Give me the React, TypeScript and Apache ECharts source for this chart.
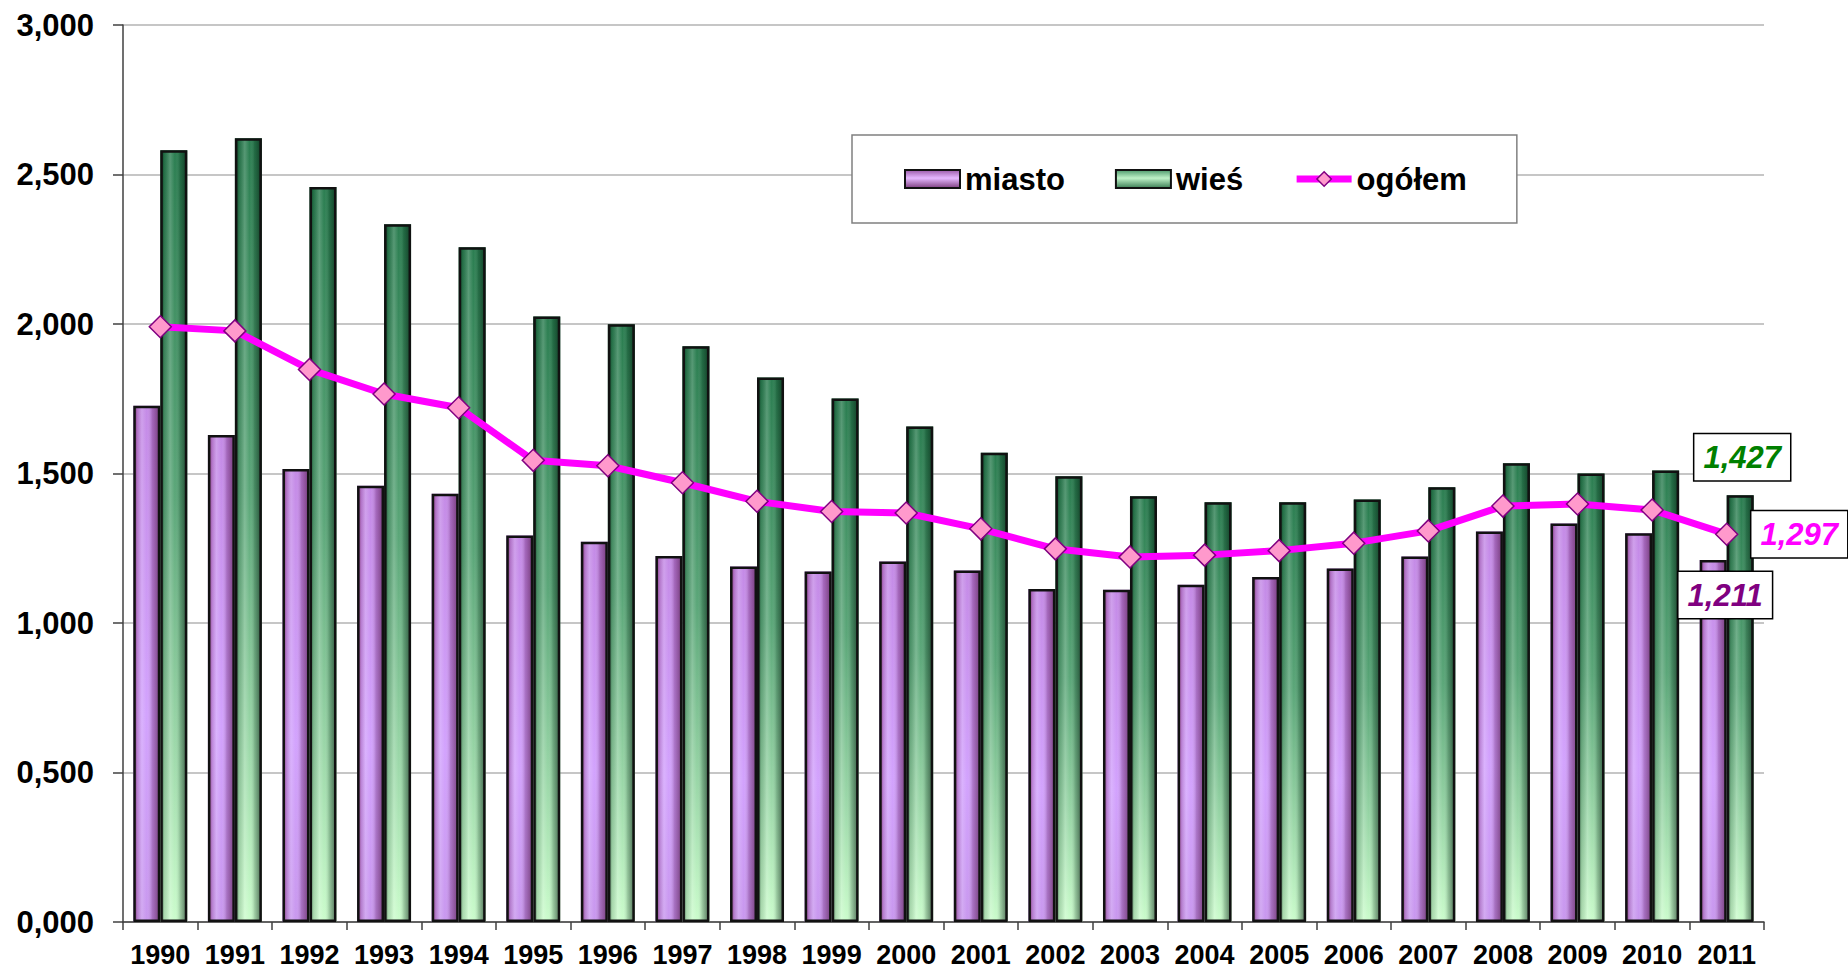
import React, { useEffect, useRef } from "react";
import * as echarts from "echarts";

const years = ["1990","1991","1992","1993","1994","1995","1996","1997","1998","1999","2000","2001","2002","2003","2004","2005","2006","2007","2008","2009","2010","2011"];
const miasto = [1.727,1.629,1.515,1.459,1.432,1.293,1.272,1.224,1.189,1.172,1.206,1.176,1.114,1.111,1.128,1.154,1.182,1.222,1.306,1.333,1.300,1.211];
const wies = [2.581,2.621,2.458,2.334,2.257,2.025,1.999,1.926,1.821,1.751,1.657,1.569,1.491,1.424,1.404,1.404,1.413,1.454,1.534,1.500,1.510,1.427];
const ogolem = [1.991,1.977,1.848,1.766,1.720,1.544,1.526,1.469,1.407,1.373,1.368,1.315,1.248,1.221,1.227,1.242,1.267,1.308,1.391,1.398,1.378,1.297];
const seriesNames = ["miasto", "wieś", "ogółem"];

const FONT = '"Liberation Sans", Arial, sans-serif';
const fmt = (v: number) => v.toFixed(3).replace(".", ",");

const grad = (x2: number, y2: number, stops: [number, string][]) =>
  new echarts.graphic.LinearGradient(0, 0, x2, y2, stops.map(([offset, color]) => ({ offset, color })));

export default function App() {
  const ref = useRef<HTMLDivElement>(null);
  useEffect(() => {
    if (!ref.current) return;
    const chart = echarts.init(ref.current, null, { renderer: "svg" });
    const last = years.length - 1;

    const miastoMain = grad(0, 1, [[0, "#c48ae6"], [0.6, "#d2a2fd"], [1, "#c897ee"]]);
    const wiesMain = grad(0, 1, [[0, "#2a7d50"], [0.45, "#5aa678"], [1, "#cbfccc"]]);
    const miastoShade = grad(1, 0, [
      [0, "rgba(100,20,60,0.65)"], [0.12, "rgba(100,20,70,0.2)"], [0.3, "rgba(255,255,255,0.18)"],
      [0.5, "rgba(255,255,255,0)"], [0.72, "rgba(70,0,60,0.25)"], [1, "rgba(60,0,40,0.55)"],
    ]);
    const wiesShade = grad(1, 0, [
      [0, "rgba(0,30,15,0.6)"], [0.12, "rgba(0,30,15,0.15)"], [0.35, "rgba(255,255,255,0.2)"],
      [0.55, "rgba(255,255,255,0)"], [0.75, "rgba(0,30,15,0.2)"], [1, "rgba(0,20,10,0.55)"],
    ]);

    const labelBase = {
      fontFamily: FONT,
      fontSize: 31,
      fontWeight: "bold" as const,
      fontStyle: "italic" as const,
      backgroundColor: "#ffffff",
      borderColor: "#000000",
      borderWidth: 1.5,
      padding: [7, 9, 6, 9],
      lineHeight: 33,
      formatter: (p: any) => fmt(p.value),
    };

    const lastLabel = (arr: number[]) =>
      arr.map((v, i) => (i === last ? { value: v, label: { show: true } } : v));

    const xAxisBase = {
      type: "category" as const,
      data: years,
      boundaryGap: true,
    };

    chart.setOption({
      animation: false,
      backgroundColor: "#ffffff",
      grid: { left: 123, right: 84, top: 25, bottom: 45, containLabel: false },
      legend: {
        left: 852,
        top: 135,
        padding: [27, 50, 27, 52],
        itemGap: 50,
        itemWidth: 55,
        itemHeight: 18,
        borderColor: "#808080",
        borderWidth: 1.5,
        backgroundColor: "#ffffff",
        textStyle: { fontFamily: FONT, fontSize: 31, fontWeight: "bold", color: "#000", lineHeight: 34 },
        data: [
          {
            name: seriesNames[0],
            icon: "rect",
            itemStyle: {
              color: grad(0, 1, [[0, "#9a5aa8"], [0.45, "#e6b8ff"], [1, "#7e3f80"]]),
              borderColor: "#111",
              borderWidth: 2,
            },
          },
          {
            name: seriesNames[1],
            icon: "rect",
            itemStyle: {
              color: grad(0, 1, [[0, "#4e9a6c"], [0.45, "#bff2c8"], [1, "#3b7f55"]]),
              borderColor: "#111",
              borderWidth: 2,
            },
          },
          {
            name: seriesNames[2],
            lineStyle: { color: "#ff00ff", width: 7 },
            itemStyle: { color: "#ff99cc", borderColor: "#800080", borderWidth: 1.5 },
          },
        ],
      },
      xAxis: [
        {
          ...xAxisBase,
          axisLine: { show: true, lineStyle: { color: "#404040", width: 1.5 } },
          axisTick: { show: true, length: 8, lineStyle: { color: "#404040", width: 1.5 } },
          axisLabel: {
            fontFamily: FONT,
            fontSize: 27,
            fontWeight: "bold",
            color: "#000",
            margin: 19,
            interval: 0,
          },
        },
        { ...xAxisBase, show: false },
      ],
      yAxis: {
        type: "value",
        min: 0,
        max: 3,
        interval: 0.5,
        axisLine: { show: true, lineStyle: { color: "#404040", width: 1.5 } },
        axisTick: { show: true, length: 10, lineStyle: { color: "#404040", width: 1.5 } },
        splitLine: { show: true, lineStyle: { color: "#b3b3b3", width: 1.5 } },
        axisLabel: {
          fontFamily: FONT,
          fontSize: 31,
          fontWeight: "bold",
          color: "#000",
          margin: 29,
          formatter: (v: number) => fmt(v),
        },
      },
      series: [
        {
          name: seriesNames[0],
          type: "bar",
          xAxisIndex: 0,
          data: miasto,
          barWidth: 27,
          barGap: "0%",
          z: 2,
          itemStyle: { color: miastoMain },
        },
        {
          name: seriesNames[1],
          type: "bar",
          xAxisIndex: 0,
          data: wies,
          barWidth: 27,
          barGap: "0%",
          z: 2,
          itemStyle: { color: wiesMain },
        },
        {
          name: "miasto-shade",
          type: "bar",
          xAxisIndex: 1,
          data: lastLabel(miasto),
          barWidth: 27,
          barGap: "0%",
          z: 3,
          itemStyle: { color: miastoShade, borderColor: "#111", borderWidth: 2.5 },
          label: {
            show: false,
            position: "top",
            distance: 5,
            offset: [12, 63],
            color: "#800080",
            ...labelBase,
          },
        },
        {
          name: "wieś-shade",
          type: "bar",
          xAxisIndex: 1,
          data: lastLabel(wies),
          barWidth: 27,
          barGap: "0%",
          z: 3,
          itemStyle: { color: wiesShade, borderColor: "#111", borderWidth: 2.5 },
          label: {
            show: false,
            position: "top",
            distance: 5,
            offset: [2, -10],
            color: "#008000",
            ...labelBase,
          },
        },
        {
          name: seriesNames[2],
          type: "line",
          xAxisIndex: 0,
          data: lastLabel(ogolem),
          z: 10,
          symbol: "diamond",
          symbolSize: 22,
          showAllSymbol: true,
          lineStyle: { color: "#ff00ff", width: 7 },
          itemStyle: { color: "#ff99cc", borderColor: "#800080", borderWidth: 1.5 },
          label: {
            show: false,
            position: "right",
            distance: 13,
            color: "#ff00ff",
            ...labelBase,
          },
        },
      ],
    });
    return () => chart.dispose();
  }, []);

  return (
    <div
      ref={ref}
      style={{ position: "fixed", left: 0, top: 0, width: 1848, height: 968, background: "#fff" }}
    />
  );
}
